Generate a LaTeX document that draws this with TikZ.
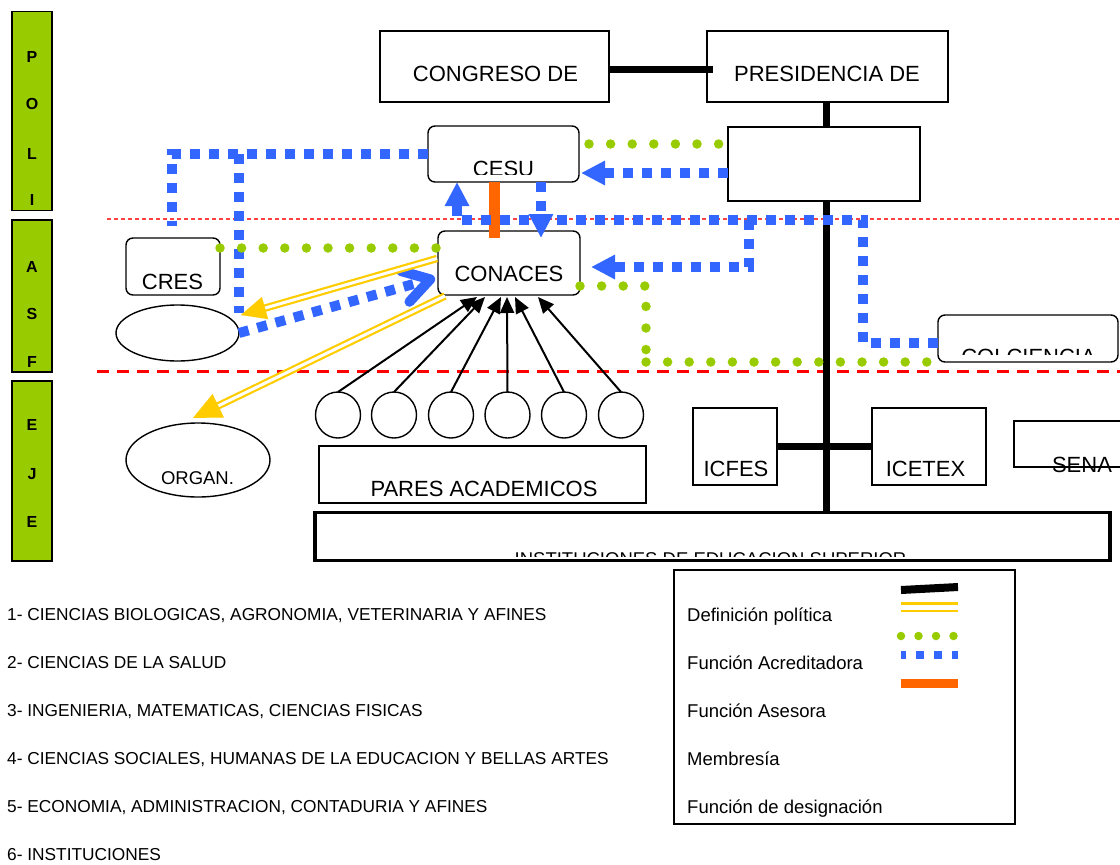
\documentclass[tikz,border=0pt]{standalone}
\usepackage{fontspec}
\setmainfont{Liberation Sans}
\usetikzlibrary{arrows.meta,calc,shapes.geometric}
\definecolor{polgreen}{HTML}{99CC00}
\definecolor{acblue}{HTML}{3366FF}
\definecolor{asorange}{HTML}{FF6600}
\definecolor{dsyellow}{HTML}{FFCC00}
\definecolor{thinred}{HTML}{FF4040}
\begin{document}
\begin{tikzpicture}[x=1pt,y=-1pt,
  box/.style={draw, line width=1.4pt, fill=white, rectangle, inner sep=0pt, outer sep=0pt},
  rbox/.style={box, rounded corners=7pt},
  oval/.style={draw, line width=1.4pt, fill=white, ellipse, inner sep=0pt, outer sep=0pt},
  sidebar/.style={draw, line width=1.5pt, fill=polgreen, rectangle, inner sep=0pt, outer sep=0pt},
  lbl/.style={font=\fontsize{22}{24}\selectfont, anchor=base, inner sep=0pt},
  lblsm/.style={font=\fontsize{18.5}{20}\selectfont, anchor=base, inner sep=0pt},
  legtxt/.style={font=\fontsize{18.5}{20}\selectfont, anchor=base west, inner sep=0pt},
  listtxt/.style={font=\fontsize{17.3}{19}\selectfont, anchor=base west, inner sep=0pt},
  barletter/.style={font=\bfseries\fontsize{16}{18}\selectfont, inner sep=0pt},
  redthin/.style={draw=thinred, line width=1.2pt, dash pattern=on 4pt off 3pt},
  reddash/.style={draw=red, line width=3pt, dash pattern=on 12pt off 8pt},
  polit/.style={draw=black, line width=7pt},
  acred/.style={draw=acblue, line width=10pt, dash pattern=on 10pt off 9pt},
  memb/.style={draw=polgreen, line width=9.5pt, line cap=round, dash pattern=on 0pt off 21.6pt},
  ases/.style={draw=asorange, line width=11pt},
  desig/.style={draw=dsyellow, line width=2.2pt, double=white, double distance=3pt},
  bluetip/.style={-{Triangle[length=24pt,width=23pt]}},
  peer/.style={draw=black, line width=2pt, -{Triangle[length=16pt,width=14pt]}}
]
\useasboundingbox (0,0) rectangle (1120,865);

% ---------- side bars ----------
\node[sidebar, minimum width=40pt, minimum height=199pt] (bar1) at (32,111) {};
\node[sidebar, minimum width=40pt, minimum height=152pt] (bar2) at (32,296) {};
\node[sidebar, minimum width=40pt, minimum height=180pt] (bar3) at (32,471) {};
\begin{scope}
  \clip (12,11) rectangle (52,205);
  \node[barletter] (lP) at (32,57) {P};
  \node[barletter] (lO) at (32,104) {O};
  \node[barletter] (lL) at (32,154) {L};
  \node[barletter] (lI) at (32,200) {I};
\end{scope}
\begin{scope}
  \clip (12,220) rectangle (52,366);
  \node[barletter] (lA) at (32,267) {A};
  \node[barletter] (lS) at (32,314) {S};
  \node[barletter] (lF) at (32,362) {F};
\end{scope}
\node[barletter] (lE1) at (32,425) {E};
\node[barletter] (lJ) at (32,474) {J};
\node[barletter] (lE2) at (32,522) {E};

% ---------- level lines ----------
\coordinate (rl1) at (107,219); \coordinate (rl2) at (1120,219);
\draw[redthin] (rl1) -- (rl2);
\coordinate (rd1) at (97,371); \coordinate (rd2) at (1120,371);
\draw[reddash] (rd1) -- (rd2);

% ---------- boxes ----------
\node[box, minimum width=229pt, minimum height=71pt] (congreso) at (494.5,66.5) {};
\node[box, minimum width=241pt, minimum height=71pt] (presid) at (827.5,66.5) {};
\node[box, minimum width=192pt, minimum height=74pt] (men) at (824,164) {};
\node[rbox, minimum width=151pt, minimum height=56pt] (cesu) at (503.5,154) {};
\node[rbox, minimum width=142pt, minimum height=64pt] (conaces) at (509,263) {};
\node[rbox, minimum width=94pt, minimum height=57pt] (cres) at (173,266.5) {};
\node[oval, minimum width=123pt, minimum height=56pt] (org1) at (177.5,333) {};
\node[oval, minimum width=144pt, minimum height=74pt] (org2) at (198,460) {};
\node[rbox, minimum width=180pt, minimum height=47pt] (colc) at (1028,338.5) {};
\node[oval, minimum width=45pt, minimum height=46pt] (c1) at (338,415) {};
\node[oval, minimum width=45pt, minimum height=46pt] (c2) at (394,415) {};
\node[oval, minimum width=45pt, minimum height=46pt] (c3) at (451,415) {};
\node[oval, minimum width=45pt, minimum height=46pt] (c4) at (507.5,415) {};
\node[oval, minimum width=45pt, minimum height=46pt] (c5) at (564,415) {};
\node[oval, minimum width=45pt, minimum height=46pt] (c6) at (621,415) {};
\node[box, minimum width=327pt, minimum height=57pt] (pares) at (482.5,474.5) {};
\node[box, minimum width=84pt, minimum height=77pt] (icfes) at (735,446.5) {};
\node[box, minimum width=114pt, minimum height=77pt] (icetex) at (929,446.5) {};
\node[box, minimum width=116pt, minimum height=46pt] (sena) at (1072,444) {};
\node[box, line width=3.5pt, minimum width=795pt, minimum height=48pt] (inst) at (712.5,536.5) {};
\node[box, line width=2pt, minimum width=341pt, minimum height=254pt] (legend) at (844.5,697) {};

% ---------- labels ----------
\node[lbl] (congresoT) at (495.5,81) {CONGRESO DE};
\node[lbl] (presidT) at (827,81) {PRESIDENCIA DE};
\begin{scope}
  \clip (430,128) rectangle (577,174);
  \node[lbl] (cesuT) at (503.5,176) {CESU};
\end{scope}
\node[lbl] (conacesT) at (509,281.5) {CONACES};
\node[lbl] (cresT) at (172.5,289.5) {CRES};
\node[lblsm] (org2T) at (197.5,484) {ORGAN.};
\begin{scope}
  \clip (940,317) rectangle (1116,354);
  \node[lbl] (colcT) at (1028.5,364) {COLCIENCIA};
\end{scope}
\node[lbl] (paresT) at (484,496) {PARES ACADEMICOS};
\node[lbl] (icfesT) at (736,476) {ICFES};
\node[lbl] (icetexT) at (925.5,476) {ICETEX};
\node[lbl] (senaT) at (1082,472) {SENA};
\begin{scope}
  \clip (318,515) rectangle (1107,556);
  \node[lblsm] (instT) at (710.5,565) {INSTITUCIONES DE EDUCACION SUPERIOR};
\end{scope}

% ---------- politica (black) ----------
\draw[polit] ($(congreso.east)+(0,2.5)$) -- ($(presid.west)+(6,2.5)$);
\draw[polit] ($(presid.south)+(-1,0)$) -- ($(men.north)+(2.5,0)$);
\coordinate (mvs) at ($(men.south)+(2,0)$);
\draw[polit] (mvs) -- (mvs |- inst.north);
\draw[polit] (icfes.east) -- (icetex.west);

% ---------- asesora (orange) ----------
\draw[ases] ($(cesu.south)+(-9,0)$) -- ($(conaces.north)+(-14.5,7)$);

% ---------- acreditadora (blue) ----------
\coordinate (bA) at (172,154); \coordinate (bB) at (172,226);
\draw[acred] (cesu.west) -- (bA) -- (bB);
\coordinate (bC) at (239,154); \coordinate (bD) at (239,313);
\draw[acred] (bC) -- (bD);
\draw[acred, -{Straight Barb[length=26pt,width=32pt,round]}] (org1.east) -- ($(conaces.west)+(-3,15)$);
\draw[acred, bluetip] ($(men.west)+(0,9)$) -- ($(cesu.east)+(2,19)$);
\coordinate (bE) at (863,343); \coordinate (bF) at (863,220); \coordinate (bG) at (457,220);
\draw[acred, bluetip] ($(colc.west)+(0,4.5)$) -- (bE) -- (bF) -- (bG) -- (bG |- cesu.south);
\coordinate (bH) at (749,220); \coordinate (bI) at (749,267);
\draw[acred, bluetip] (bH) -- (bI) -- ($(conaces.east)+(11,4)$);
\draw[acred, bluetip] ($(cesu.south)+(37.5,0)$) -- ($(conaces.north)+(32,7)$);

% ---------- membresia (green) ----------
\draw[memb] ($(cesu.east)+(10,-10)$) -- ($(men.west)+(-8,-20)$);
\draw[memb] ($(cres.east)+(0,-18.5)$) -- ($(conaces.west)+(-1,-15)$);
\coordinate (gA) at (646,286); \coordinate (gB) at (646,353); \coordinate (gC) at (646,362);
\draw[memb] ($(conaces.east)+(0,23)$) -- (gA) -- (gB);
\draw[memb] (gC) -- ($(colc.west)+(-11,23.5)$);

% ---------- designacion (yellow double) ----------
\coordinate (y1s) at ($(conaces.west)+(-1,-4.5)$);
\coordinate (y1t) at (241,315);
\draw[desig] (y1s) -- ($(y1t)!22pt!(y1s)$);
\draw[draw=dsyellow, fill=dsyellow, line width=0.1pt, -{Triangle[length=25pt,width=23pt]}] ($(y1t)!25pt!(y1s)$) -- (y1t);
\coordinate (y2s) at ($(conaces.south west)+(7,1)$);
\coordinate (y2t) at (193,418);
\draw[desig] (y2s) -- ($(y2t)!26pt!(y2s)$);
\draw[draw=dsyellow, fill=dsyellow, line width=0.1pt, -{Triangle[length=28pt,width=26pt]}] ($(y2t)!28pt!(y2s)$) -- (y2t);

% ---------- pares -> conaces ----------
\draw[peer] (c1.north) -- ($(conaces.south)+(-32,2)$);
\draw[peer] (c2.north) -- ($(conaces.south)+(-24,2)$);
\draw[peer] (c3.north) -- ($(conaces.south)+(-8,2)$);
\draw[peer] (c4.north) -- ($(conaces.south)+(-2,2)$);
\draw[peer] (c5.north) -- ($(conaces.south)+(6,2)$);
\draw[peer] (c6.north) -- ($(conaces.south)+(29,2)$);

% ---------- legend ----------
\coordinate (lk1) at (901,590); \coordinate (lk2) at (958,587);
\draw[line width=8pt] (lk1) -- (lk2);
\coordinate (ly1) at (901,607); \coordinate (ly2) at (958,607);
\draw[draw=dsyellow, line width=2.7pt, double=white, double distance=5pt] (ly1) -- (ly2);
\coordinate (lg1) at (901,636); \coordinate (lg2) at (960,636);
\draw[draw=polgreen, line width=8.5pt, line cap=round, dash pattern=on 0pt off 17.5pt] (lg1) -- (lg2);
\coordinate (lb1) at (901,655); \coordinate (lb2) at (958,655);
\draw[draw=acblue, line width=8pt, dash pattern=on 8pt off 10pt, dash phase=3pt] (lb1) -- (lb2);
\coordinate (lo1) at (901,683.5); \coordinate (lo2) at (958,683.5);
\draw[draw=asorange, line width=9pt] (lo1) -- (lo2);

\node[legtxt] (lt1) at (687,621.5) {Definición política};
\node[legtxt] (lt2) at (687,669.5) {Función Acreditadora};
\node[legtxt] (lt3) at (687,717.5) {Función Asesora};
\node[legtxt] (lt4) at (687,765.5) {Membresía};
\node[legtxt] (lt5) at (687,813.5) {Función de designación};

% ---------- list ----------
\node[listtxt] (li1) at (7,620) {1- CIENCIAS BIOLOGICAS, AGRONOMIA, VETERINARIA Y AFINES};
\node[listtxt] (li2) at (7,668) {2- CIENCIAS DE LA SALUD};
\node[listtxt] (li3) at (7,716) {3- INGENIERIA, MATEMATICAS, CIENCIAS FISICAS};
\node[listtxt] (li4) at (7,764) {4- CIENCIAS SOCIALES, HUMANAS DE LA EDUCACION Y BELLAS ARTES};
\node[listtxt] (li5) at (7,812) {5- ECONOMIA, ADMINISTRACION, CONTADURIA Y AFINES};
\node[listtxt] (li6) at (7,860) {6- INSTITUCIONES};
\end{tikzpicture}
\end{document}
